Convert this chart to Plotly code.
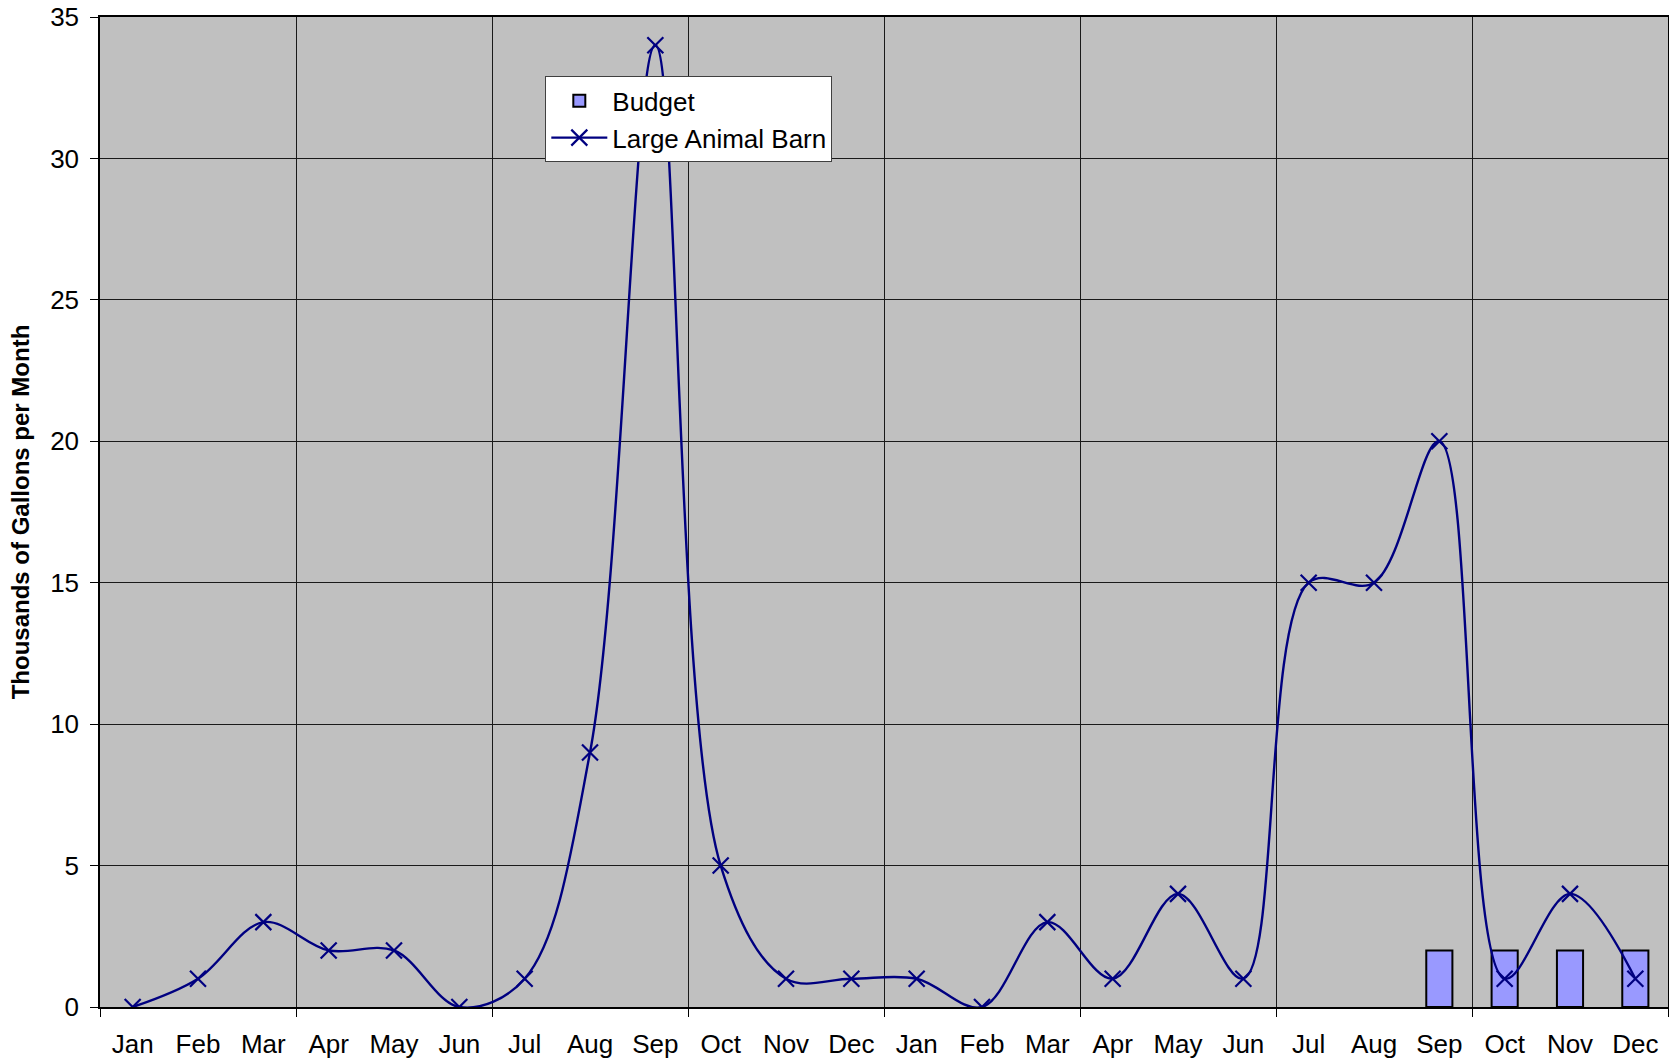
import plotly.graph_objects as go

months = ["Jan", "Feb", "Mar", "Apr", "May", "Jun", "Jul", "Aug", "Sep", "Oct", "Nov", "Dec",
          "Jan", "Feb", "Mar", "Apr", "May", "Jun", "Jul", "Aug", "Sep", "Oct", "Nov", "Dec"]
barn = [0, 1, 3, 2, 2, 0, 1, 9, 34, 5, 1, 1,
        1, 0, 3, 1, 4, 1, 15, 15, 20, 1, 4, 1]
budget = [None] * 20 + [2, 2, 2, 2]
y_ticks = [0, 5, 10, 15, 20, 25, 30, 35]

idx = list(range(len(months)))
FONT = "Liberation Sans, Arial, sans-serif"

fig = go.Figure()
fig.add_trace(go.Bar(
    x=idx, y=budget, name="Budget", width=0.4,
    marker=dict(color="#9999FF", line=dict(color="#000000", width=2)),
))
fig.add_trace(go.Scatter(
    x=idx, y=barn, name="Large Animal Barn", mode="lines+markers",
    line=dict(color="#000080", width=2.4, shape="spline", smoothing=1),
    marker=dict(symbol="x-thin-open", size=16, color="#000080",
                line=dict(color="#000080", width=2.2)),
))

fig.update_layout(
    width=1669, height=1063,
    margin=dict(l=100, r=1, t=17, b=56, autoexpand=False),
    paper_bgcolor="#FFFFFF", plot_bgcolor="#C0C0C0",
    font=dict(family=FONT, size=26, color="#000000"),
    showlegend=True,
    legend=dict(x=0.284, y=0.94, xanchor="left", yanchor="top",
                bgcolor="#FFFFFF", bordercolor="#404040", borderwidth=1,
                font=dict(size=26, family=FONT), itemwidth=56),
    bargap=0.6,
)
fig.update_xaxes(
    range=[-0.5, 23.5], tickmode="array", tickvals=idx, ticktext=months,
    ticks="", showgrid=False, ticklabelstandoff=13,
    showline=True, linecolor="#000000", linewidth=1.5, mirror=True,
    zeroline=False,
    minor=dict(tick0=-0.5, dtick=3, ticks="outside", ticklen=8, tickcolor="#000000",
               tickwidth=1, showgrid=True, gridcolor="#1a1a1a", gridwidth=1),
    tickfont=dict(size=26, family=FONT),
)
fig.update_yaxes(
    range=[0, 35], tickmode="array", tickvals=y_ticks,
    ticks="outside", ticklen=8, tickcolor="#000000", ticklabelstandoff=6,
    showgrid=True, gridcolor="#1a1a1a", gridwidth=1,
    showline=True, linecolor="#000000", linewidth=1.5, mirror=True,
    zeroline=False,
    title=dict(text="<b>Thousands of Gallons per Month</b>", standoff=14,
               font=dict(size=24, family=FONT)),
    tickfont=dict(size=26, family=FONT),
)

# remove the browser's default 8px body margin so the figure sits at the page origin
fig.write_html("out.html",
               config={"displayModeBar": False},
               post_script="document.body.style.margin='0px';document.body.style.overflow='hidden';")
